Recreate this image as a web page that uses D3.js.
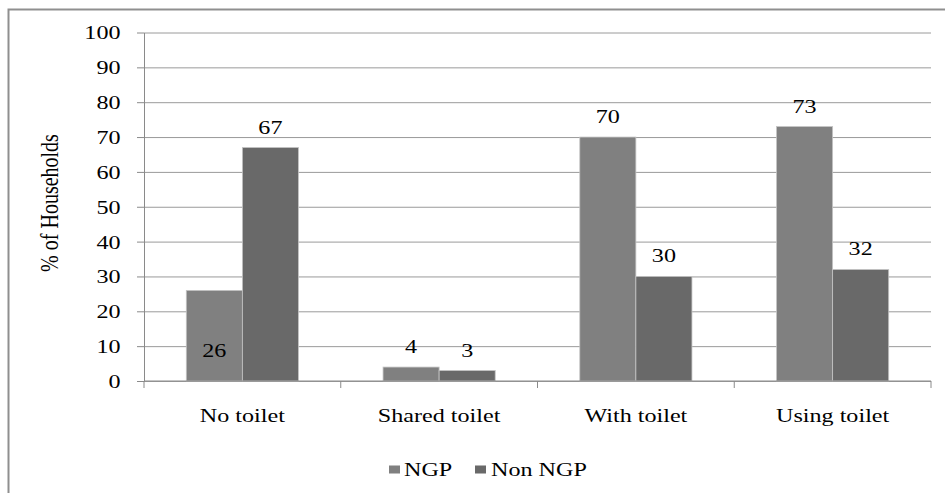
<!DOCTYPE html>
<html>
<head>
<meta charset="utf-8">
<script src="https://cdn.jsdelivr.net/npm/d3@7"></script>
<style>
  html, body { margin: 0; padding: 0; background: #fff; }
  svg { display: block; }
</style>
</head>
<body>
<svg id="chart" width="945" height="493"></svg>
<script>
// Household toilet access, NGP vs Non NGP (% of households)
const categories = ["No toilet", "Shared toilet", "With toilet", "Using toilet"];
const seriesNames = ["NGP", "Non NGP"];
const ngpValues = [26, 4, 70, 73];
const nonNgpValues = [67, 3, 30, 32];
const yTicks = [0, 10, 20, 30, 40, 50, 60, 70, 80, 90, 100];
const yTitle = "% of Households";

const colors = { "NGP": "#808080", "Non NGP": "#696969" };
const SX = 1.27;          // horizontal stretch of the lettering
const FONT = 19;
const FAMILY = "'Liberation Serif', 'Times New Roman', 'DejaVu Serif', serif";

const svg = d3.select("#chart");
const W = 945, H = 493;

// outer frame
svg.append("rect")
  .attr("x", 8.5).attr("y", 9.5)
  .attr("width", W + 20).attr("height", H + 20)
  .attr("fill", "#fff").attr("stroke", "#8f8f8f").attr("stroke-width", 2);

const plot = { left: 144, right: 931, top: 32.5, bottom: 381 };

const y = d3.scaleLinear().domain([0, 100]).range([plot.bottom, plot.top]);
const x0 = d3.scaleBand().domain(categories)
  .range([plot.left, plot.right])
  .paddingInner(0.43).paddingOuter(0.215);
const x1 = d3.scaleBand().domain(seriesNames).range([0, x0.bandwidth()]).padding(0);

const rows = categories.map((c, i) => ({
  category: c,
  values: [
    { series: "NGP", value: ngpValues[i] },
    { series: "Non NGP", value: nonNgpValues[i] }
  ]
}));

// horizontal gridlines
svg.append("g")
  .attr("transform", `translate(${plot.left},0)`)
  .call(d3.axisLeft(y).tickValues(yTicks).tickSize(-(plot.right - plot.left)).tickFormat(""))
  .call(g => g.select(".domain").remove())
  .call(g => g.selectAll("line").attr("stroke", "#9a9a9a").attr("stroke-width", 1));

// y axis with ticks and labels
const yAxis = svg.append("g")
  .attr("transform", `translate(${plot.left},0)`)
  .call(d3.axisLeft(y).tickValues(yTicks).tickSize(7).tickPadding(0).tickSizeOuter(0))
  .attr("font-family", FAMILY)
  .attr("font-size", FONT);
yAxis.select(".domain").attr("stroke", "#8a8a8a");
yAxis.selectAll(".tick line").attr("stroke", "#8a8a8a");
yAxis.selectAll(".tick text")
  .attr("font-family", FAMILY)
  .attr("font-size", FONT)
  .attr("fill", "#000")
  .attr("x", -23.5 / SX)
  .attr("dy", "0.34em")
  .attr("transform", `scale(${SX},1)`);

// bars
const groups = svg.append("g").selectAll("g")
  .data(rows).join("g")
  .attr("transform", d => `translate(${x0(d.category)},0)`);

groups.selectAll("rect")
  .data(d => d.values).join("rect")
  .attr("x", d => x1(d.series))
  .attr("y", d => y(d.value))
  .attr("width", x1.bandwidth())
  .attr("height", d => y(0) - y(d.value))
  .attr("fill", d => colors[d.series])
  .attr("stroke", "#c4c4c4")
  .attr("stroke-width", 0.8);

// x axis baseline and category separators
const step = x0.step();
const boundaries = d3.range(categories.length + 1).map(i => plot.left + i * step);
svg.append("line")
  .attr("x1", plot.left).attr("x2", plot.right)
  .attr("y1", plot.bottom).attr("y2", plot.bottom)
  .attr("stroke", "#8a8a8a");
svg.append("g").selectAll("line")
  .data(boundaries).join("line")
  .attr("x1", d => d).attr("x2", d => d)
  .attr("y1", plot.bottom).attr("y2", plot.bottom + 7)
  .attr("stroke", "#8a8a8a");

// stretched text helper
function label(g, x, yy, txt, size, anchor) {
  return g.append("text")
    .attr("transform", `translate(${x},${yy}) scale(${SX},1)`)
    .attr("text-anchor", anchor || "middle")
    .attr("font-family", FAMILY)
    .attr("font-size", size || FONT)
    .attr("fill", "#000")
    .text(txt);
}

// category labels
categories.forEach(c => {
  label(svg, x0(c) + x0.bandwidth() / 2, 422, c);
});

// value labels: above each bar, except the short NGP "No toilet" bar which is labelled inside
const insideLabel = new Set(["No toilet|NGP"]);
rows.forEach(r => {
  r.values.forEach(v => {
    const cx = x0(r.category) + x1(v.series) + x1.bandwidth() / 2;
    const yy = insideLabel.has(r.category + "|" + v.series)
      ? y(v.value) + 67
      : y(v.value) - 14;
    label(svg, cx, yy, v.value);
  });
});

// y axis title
svg.append("text")
  .attr("transform", `translate(58,203) rotate(-90) scale(1,${SX})`)
  .attr("text-anchor", "middle")
  .attr("font-family", FAMILY)
  .attr("font-size", 20)
  .attr("fill", "#000")
  .text(yTitle);

// legend
const legend = svg.append("g");
const legendItems = [
  { name: "NGP", sx: 389, tx: 404 },
  { name: "Non NGP", sx: 475, tx: 491 }
];
legendItems.forEach(it => {
  legend.append("rect")
    .attr("x", it.sx).attr("y", 465.5)
    .attr("width", 11).attr("height", 8)
    .attr("fill", colors[it.name]);
  label(legend, it.tx, 476, it.name, FONT, "start");
});
</script>
</body>
</html>
